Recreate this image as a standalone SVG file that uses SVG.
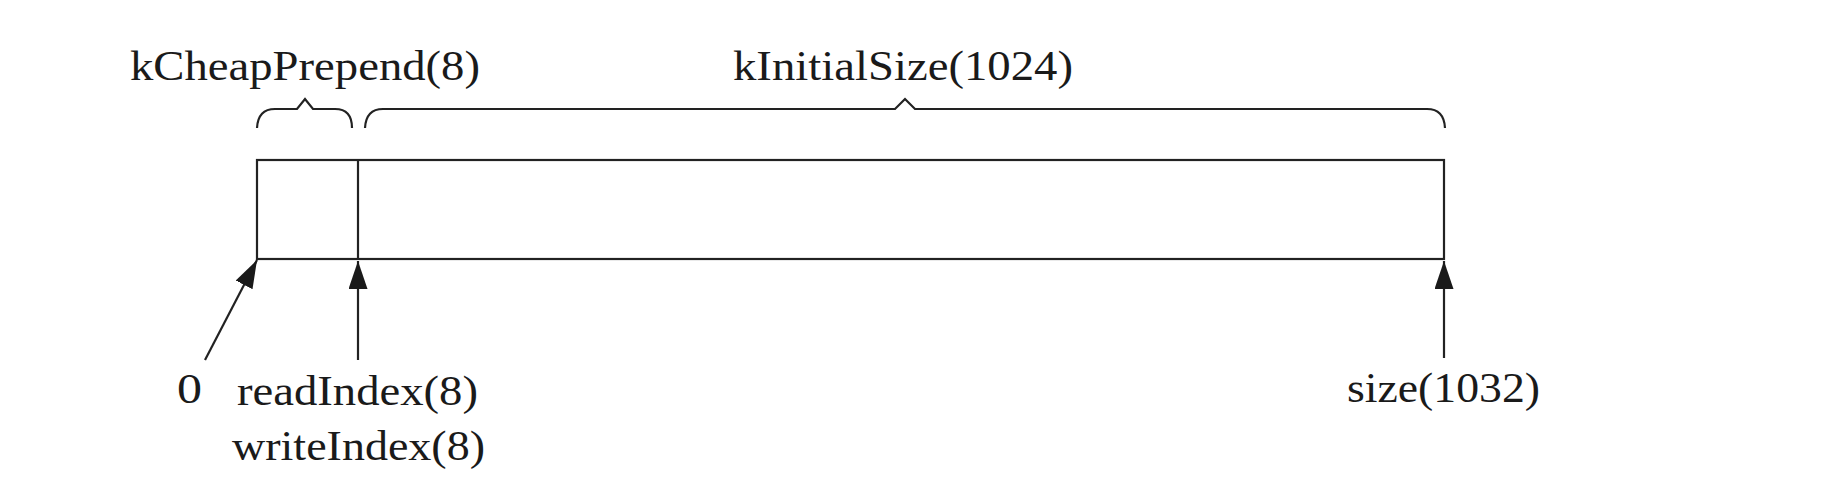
<svg xmlns="http://www.w3.org/2000/svg" width="1822" height="504" viewBox="0 0 1822 504">
<defs>
<style>
.ln{fill:none;stroke:#222;stroke-width:2.2}
.tx{font-family:"Liberation Serif","Times New Roman",serif;font-size:42px;fill:#1a1a1a}
</style>
<marker id="ah" markerUnits="userSpaceOnUse" markerWidth="30" markerHeight="20" refX="28" refY="9.5" orient="auto">
<path d="M0,0 L28,9.5 L0,19 Z" fill="#1a1a1a"/>
</marker>
</defs>
<rect width="1822" height="504" fill="#fff"/>
<g id="buffer">
<rect class="ln" x="257" y="160" width="1187" height="99"/>
<line class="ln" x1="358" y1="160" x2="358" y2="259"/>
</g>
<g id="brace-prepend">
<path class="ln" d="M257,128 Q258,109 275,109 L297,109 L305,99 L313,109 L335,109 Q352,109 352,128"/>
<text class="tx" x="130" y="80" textLength="350" lengthAdjust="spacingAndGlyphs">kCheapPrepend(8)</text>
</g>
<g id="brace-initial">
<path class="ln" d="M365,128 Q366,109 383,109 L895,109 L905,99 L915,109 L1427,109 Q1444,109 1445,128"/>
<text class="tx" x="733" y="80" textLength="340" lengthAdjust="spacingAndGlyphs">kInitialSize(1024)</text>
</g>
<g id="connectors">
<line class="ln" x1="205" y1="360" x2="257" y2="260" marker-end="url(#ah)"/>
<line class="ln" x1="358" y1="360" x2="358" y2="261" marker-end="url(#ah)"/>
<line class="ln" x1="1444" y1="358" x2="1444" y2="261" marker-end="url(#ah)"/>
</g>
<g id="label-zero">
<text class="tx" x="177" y="403" textLength="25" lengthAdjust="spacingAndGlyphs">0</text>
</g>
<g id="label-index">
<text class="tx" x="237" y="405" textLength="241" lengthAdjust="spacingAndGlyphs">readIndex(8)</text>
<text class="tx" x="232" y="460" textLength="253" lengthAdjust="spacingAndGlyphs">writeIndex(8)</text>
</g>
<g id="label-size">
<text class="tx" x="1347" y="402" textLength="193" lengthAdjust="spacingAndGlyphs">size(1032)</text>
</g>
</svg>
